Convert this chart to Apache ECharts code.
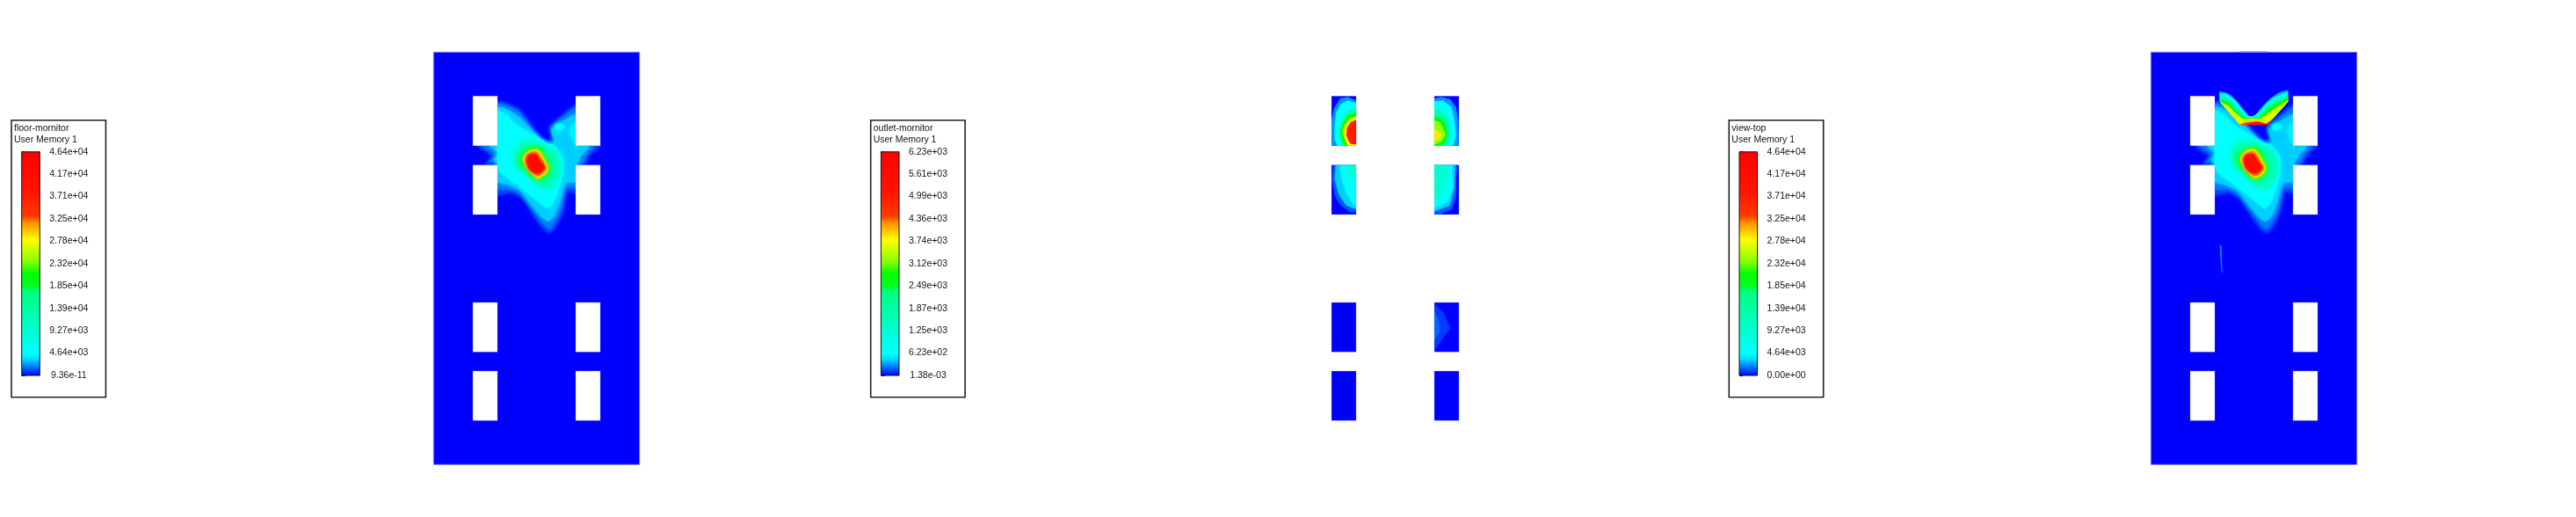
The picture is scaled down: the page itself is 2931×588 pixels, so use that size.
<!DOCTYPE html>
<html><head><meta charset="utf-8">
<style>html,body{margin:0;padding:0;background:#fff}#c{width:2931px;height:588px}</style>
<script src="https://cdn.jsdelivr.net/npm/echarts@6/dist/echarts.min.js"></script>
</head><body><div id="c"></div>
<script>
// ---- data (plate coordinates; contour levels are fractions of the colour bar) ----
const panelNames = ['floor-mornitor', 'outlet-mornitor', 'view-top'];
const legendSubtitle = 'User Memory 1';
const ticksFloor = ['9.36e-11','4.64e+03','9.27e+03','1.39e+04','1.85e+04','2.32e+04','2.78e+04','3.25e+04','3.71e+04','4.17e+04','4.64e+04'];
const ticksOutlet = ['1.38e-03','6.23e+02','1.25e+03','1.87e+03','2.49e+03','3.12e+03','3.74e+03','4.36e+03','4.99e+03','5.61e+03','6.23e+03'];
const ticksTop = ['0.00e+00','4.64e+03','9.27e+03','1.39e+04','1.85e+04','2.32e+04','2.78e+04','3.25e+04','3.71e+04','4.17e+04','4.64e+04'];
const colorStops = [[0,'#0000ff'],[0.047,'#008cff'],[0.075,'#00dcff'],[0.10,'#00ffff'],[0.22,'#00ffc8'],[0.377,'#00ff80'],[0.40,'#00ff20'],[0.456,'#00ff00'],[0.507,'#82ff00'],[0.606,'#ffff00'],[0.684,'#ff8c00'],[0.712,'#ff3c00'],[0.82,'#ff1400'],[1,'#ff0000']];
const plate = [[40,28],[743,28],[743,1435],[40,1435]];
const topTab = [[341,25],[441,25],[441,28],[341,28]];
const windowX = [[174,258],[525,609]];
const windowY = [[178,347],[413,582],[882,1051],[1116,1285]];
const plumeBands = [
 [0.02,[[258,198],[295,205],[335,225],[375,280],[410,322],[432,332],[445,320],[435,285],[465,255],[528,208],[540,340],[610,347],[575,375],[555,412],[528,420],[528,510],[495,505],[482,570],[465,612],[438,645],[412,630],[380,585],[345,530],[305,508],[255,515],[250,415],[215,412],[240,385],[190,347],[250,340]]],
 [0.04,[[258,205],[295,212],[332,232],[372,284],[407,325],[430,337],[447,326],[438,288],[466,262],[528,218],[528,345],[590,348],[565,375],[548,410],[528,415],[528,492],[492,492],[477,560],[458,602],[436,632],[414,615],[376,565],[340,518],[305,498],[258,495],[258,410],[228,402],[247,378],[205,347],[258,345]]],
 [0.07,[[258,215],[295,225],[332,250],[372,290],[410,327],[442,343],[452,333],[442,292],[468,272],[528,240],[528,345],[572,349],[545,380],[530,410],[528,470],[492,475],[470,545],[450,590],[430,605],[408,590],[370,545],[335,500],[290,480],[258,470],[258,410],[245,395],[258,372],[230,347],[258,345]]],
 [0.1,[[258,228],[290,243],[325,278],[372,305],[425,338],[450,345],[480,385],[482,440],[468,490],[450,540],[428,560],[395,535],[355,505],[325,480],[290,455],[262,430],[258,370]]],
 [0.1,[[455,275],[475,272],[488,285],[470,295],[455,290]]],
 [0.09,[[528,265],[505,290],[510,320],[525,345],[528,380]]],
 [0.16,[[330,328],[375,318],[420,345],[460,362],[476,400],[470,450],[450,495],[425,500],[385,480],[345,445],[320,425],[305,385],[315,350]]],
 [0.25,[[350,335],[400,340],[450,365],[470,400],[465,450],[430,490],[395,480],[350,440],[320,420],[315,380],[330,350]]],
 [0.33,[[358,348],[400,348],[432,375],[448,410],[445,440],[415,470],[390,465],[355,432],[330,405],[328,375],[340,358]]],
 [0.44,[[368,357],[402,357],[423,388],[435,420],[432,442],[400,463],[373,449],[353,422],[335,395],[348,373]]],
 [0.6,[[372,362],[397,362],[418,393],[431,423],[423,442],[395,458],[378,445],[358,422],[345,393],[356,373]]],
 [0.68,[[374,368],[393,367],[412,396],[426,422],[416,439],[395,453],[379,439],[363,425],[351,395],[360,376]]],
 [0.9,[[374,375],[389,375],[407,402],[419,420],[408,437],[390,443],[368,429],[357,403],[360,383]]]
];
const outletBands = [
 [0.05,[[258,193],[229,181],[204,186],[184,216],[174,260],[174,347],[258,347]]],
 [0.1,[[258,201],[229,193],[204,206],[189,236],[184,281],[184,326],[194,347],[258,347]]],
 [0.3,[[258,219],[234,226],[214,246],[204,276],[199,311],[209,347],[258,347]]],
 [0.45,[[258,234],[234,241],[214,266],[204,296],[209,326],[219,347],[258,347]]],
 [0.6,[[258,248],[237,253],[219,276],[211,301],[219,326],[229,346],[258,347]]],
 [0.8,[[258,259],[239,266],[227,286],[224,311],[232,331],[239,341],[258,343]]],
 [0.05,[[525,186],[549,181],[579,189],[599,216],[607,261],[609,347],[525,347]]],
 [0.1,[[525,196],[554,193],[584,216],[594,261],[599,311],[589,347],[525,347]]],
 [0.3,[[525,224],[549,226],[569,251],[579,291],[579,326],[564,347],[525,347]]],
 [0.45,[[525,251],[544,253],[561,271],[569,306],[561,336],[544,347],[525,347]]],
 [0.52,[[525,261],[544,266],[554,286],[564,311],[549,333],[529,343],[525,343]]],
 [0.62,[[525,291],[539,296],[549,311],[539,326],[527,331],[525,331]]],
 [0.03,[[258,413],[180,413],[176,461],[186,521],[206,551],[236,573],[258,575]]],
 [0.07,[[258,413],[188,413],[184,461],[199,516],[224,551],[258,565]]],
 [0.11,[[258,413],[202,413],[208,461],[224,511],[246,545],[258,552]]],
 [0.2,[[258,413],[224,413],[234,441],[258,466]]],
 [0.03,[[525,413],[606,413],[600,451],[600,521],[585,565],[545,582],[525,582]]],
 [0.07,[[525,413],[596,413],[594,491],[578,551],[525,572]]],
 [0.11,[[525,413],[586,413],[588,491],[570,541],[525,561]]],
 [0.2,[[525,413],[572,413],[570,461],[552,511],[525,541]]],
 [0.02,[[525,886],[559,921],[579,971],[549,1011],[529,1041],[525,1046]]],
 [0.035,[[525,911],[539,941],[544,981],[525,1011]]]
];
const canopyBands = [
 [0.06,[[273,162],[293,165],[313,175],[333,195],[353,220],[373,245],[386,250],[398,240],[423,210],[448,185],[478,165],[508,157],[508,197],[438,275],[343,275],[275,197]]],
 [0.12,[[273,168],[298,170],[328,193],[348,220],[373,245],[388,247],[408,233],[433,203],[458,183],[508,163],[508,197],[438,275],[343,275],[275,197]]],
 [0.3,[[275,180],[303,185],[328,207],[348,233],[368,250],[393,253],[423,227],[448,203],[483,185],[508,173],[508,197],[438,275],[343,275]]],
 [0.45,[[275,190],[298,195],[323,220],[343,240],[363,253],[408,253],[438,223],[468,201],[508,183],[508,197],[438,275],[343,275]]],
 [0.58,[[275,197],[303,210],[328,235],[353,255],[413,255],[448,230],[483,207],[508,190],[508,197],[438,275],[343,275]]],
 [0.66,[[343,275],[363,262],[413,262],[438,275]]],
 [0.9,[[343,275],[368,269],[403,265],[433,272],[458,255],[443,270],[438,276]]]
];
const streak = [[275,685],[280,688],[284,780],[281,780],[277,725]];
const streakLevel = 0.05;
const plumeEdge = '#7878ff';
// ---- layout ----
const panelLeft = [493.33, 1470.33, 2447.33];
const boxLeft = [13, 990.7, 1967.3];
const tickSets = [ticksFloor, ticksOutlet, ticksTop];

function hex(c){return [1,3,5].map(i=>parseInt(c.substr(i,2),16));}
function levelColor(f){
  for(let i=1;i<colorStops.length;i++){
    if(f<=colorStops[i][0]){
      const a=colorStops[i-1],b=colorStops[i],t=(f-a[0])/(b[0]-a[0]);
      const A=hex(a[1]),B=hex(b[1]);
      return 'rgb('+A.map((v,k)=>Math.round(v+(B[k]-v)*t)).join(',')+')';
    }
  }
  return '#ff0000';
}
function windowRects(){
  const r=[];
  windowY.forEach(y=>windowX.forEach(x=>r.push([[x[0],y[0]],[x[1],y[0]],[x[1],y[1]],[x[0],y[1]]])));
  return r;
}
function floorMarks(withCanopy){
  const m=[{pts:plate,fill:'#0000ff',stroke:plumeEdge}];
  if(withCanopy) m.push({pts:topTab,fill:'#9a9aff'});
  plumeBands.forEach(b=>m.push({pts:b[1],fill:levelColor(b[0]),soft:true}));
  if(withCanopy){
    m.push({pts:streak,fill:levelColor(streakLevel)});
  }
  windowRects().forEach(p=>m.push({pts:p,fill:'#ffffff',edge:true}));
  if(withCanopy) canopyBands.forEach(b=>m.push({pts:b[1],fill:levelColor(b[0])}));
  return m;
}
function outletMarks(){
  const m=[];
  windowRects().forEach(p=>m.push({pts:p,fill:'#0000ff',edge:true}));
  outletBands.forEach(b=>m.push({pts:b[1],fill:levelColor(b[0])}));
  return m;
}
const panelMarks=[floorMarks(false),outletMarks(),floorMarks(true)];

const grids=[],xAxes=[],yAxes=[],series=[],titles=[],graphics=[];
panelLeft.forEach((left,i)=>{
  // plate grid: axis range 25..758 by 13..1450 at 3 units per pixel
  grids.push({left:left-5,top:54.33,width:733/3,height:1437/3});
  xAxes.push({type:'value',gridIndex:i*2,min:25,max:758,show:false});
  yAxes.push({type:'value',gridIndex:i*2,min:13,max:1450,inverse:true,show:false});
  const marks=panelMarks[i];
  series.push({type:'custom',coordinateSystem:'cartesian2d',xAxisIndex:i*2,yAxisIndex:i*2,clip:false,silent:true,
    data:marks.map((m,k)=>[k]),encode:{x:0,y:0},
    renderItem:(p,api)=>{
      const m=marks[p.dataIndex];
      const style={fill:m.fill};
      if(m.stroke){style.stroke=m.stroke;style.lineWidth=1;}
      if(m.edge){style.stroke='rgba(150,150,255,0.55)';style.lineWidth=0.6;}
      if(m.soft){style.shadowColor=m.fill;style.shadowBlur=4;}
      return {type:'polygon',shape:{points:m.pts.map(q=>api.coord(q)),smooth:m.soft?0.2:0},style};
    }});
  // colour-bar grid
  const bl=boxLeft[i]+11.7;
  grids.push({left:bl,top:172.7,width:20.6,height:254.3});
  xAxes.push({type:'value',gridIndex:i*2+1,min:0,max:1,show:false});
  const labels=tickSets[i];
  yAxes.push({type:'value',gridIndex:i*2+1,min:0,max:10,interval:1,position:'right',
    axisLine:{show:false},splitLine:{show:false},
    axisTick:{show:true,length:4,lineStyle:{color:'#222',width:1}},
    axisLabel:{show:true,margin:33,align:'center',fontFamily:'Liberation Sans',fontSize:10.5,color:'#111',formatter:v=>labels[v]}});
  series.push({type:'custom',coordinateSystem:'cartesian2d',xAxisIndex:i*2+1,yAxisIndex:i*2+1,silent:true,
    data:[[0,0,1,10]],encode:{x:[0,2],y:[1,3]},
    renderItem:(p,api)=>{
      const a=api.coord([0,10]),b=api.coord([1,0]);
      return {type:'rect',shape:{x:a[0],y:a[1],width:b[0]-a[0],height:b[1]-a[1]},
        style:{stroke:'#111',lineWidth:1,fill:new echarts.graphic.LinearGradient(0,1,0,0,colorStops.map(s=>({offset:s[0],color:s[1]})))}};
    }});
  titles.push({text:panelNames[i]+'\n'+legendSubtitle,left:boxLeft[i]+3,top:140,
    textStyle:{fontFamily:'Liberation Sans',fontSize:10.5,fontWeight:'normal',color:'#111',lineHeight:13},padding:0});
  graphics.push({type:'rect',z:-1,shape:{x:boxLeft[i],y:136.7,width:107.4,height:315},style:{fill:'#fff',stroke:'#222',lineWidth:1.6}});
});
const chart=echarts.init(document.getElementById('c'),null,{renderer:'canvas'});
chart.setOption({animation:false,backgroundColor:'#fff',title:titles,grid:grids,xAxis:xAxes,yAxis:yAxes,series,graphic:graphics,tooltip:{show:false}});
</script></body></html>
